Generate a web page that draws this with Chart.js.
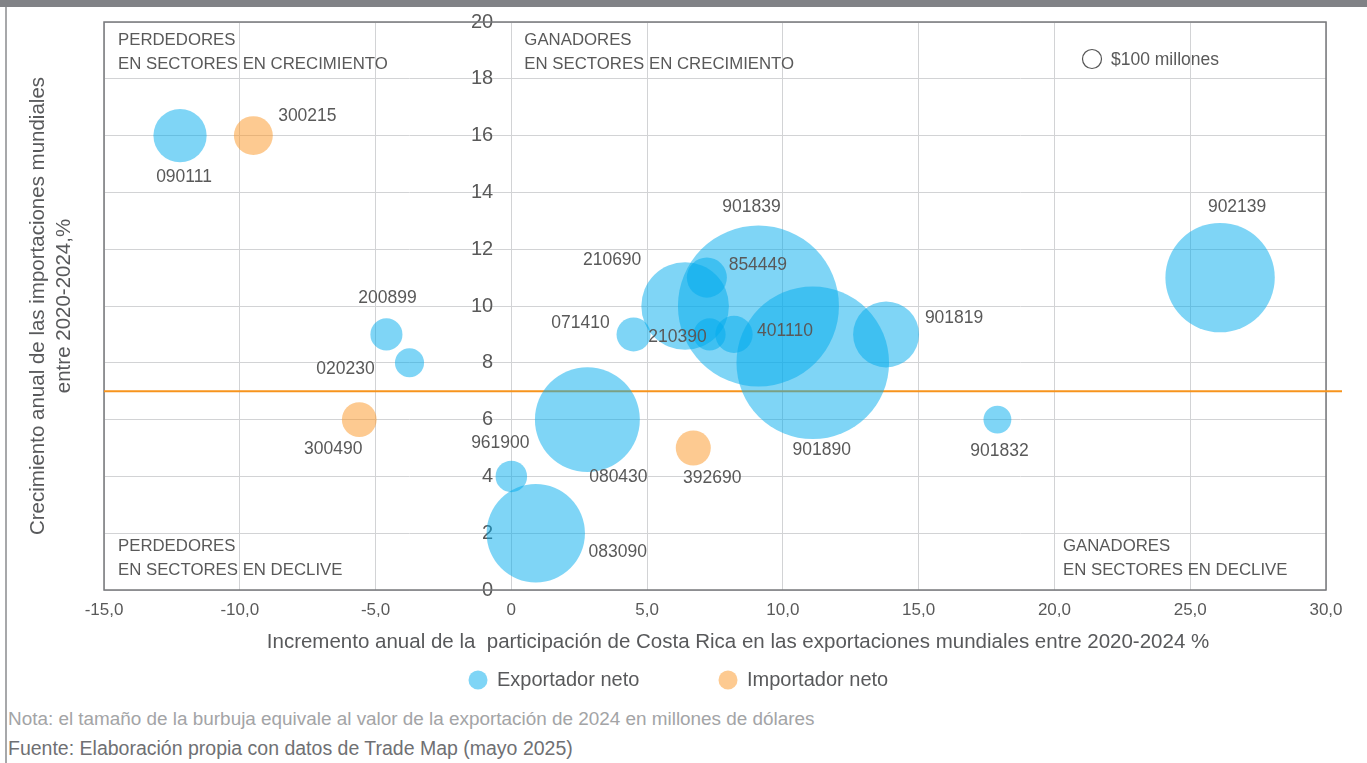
<!DOCTYPE html>
<html lang="es">
<head>
<meta charset="UTF-8">
<title>Ganadores y perdedores</title>
<script src="https://cdn.jsdelivr.net/npm/chart.js@4.4.1/dist/chart.umd.min.js"></script>
<style>
  body { margin: 0; background: #fff; font-family: "Liberation Sans", Arial, sans-serif; }
  #wrap { position: relative; width: 1367px; height: 763px; overflow: hidden; }
  #topbar { position: absolute; left: 0; top: 0; width: 1367px; height: 7px; background: #818286; }
  #leftline { position: absolute; left: 5px; top: 7px; width: 2px; height: 756px; background: #a7a8aa; }
  canvas { position: absolute; left: 0; top: 0; }
  .note { position: absolute; left: 8px; white-space: nowrap; }
</style>
</head>
<body>
<div id="wrap">
  <canvas id="bubbles" width="1367" height="700"></canvas>
  <div id="topbar"></div>
  <div id="leftline"></div>
  <div class="note" style="top:708px;font-size:18.9px;color:#a3a4a6">Nota: el tamaño de la burbuja equivale al valor de la exportación de 2024 en millones de dólares</div>
  <div class="note" style="top:737px;font-size:19.5px;color:#6f7073">Fuente: Elaboración propia con datos de Trade Map (mayo 2025)</div>
</div>

<script>
// partidas SA (6 digitos)
const codes     = ['090111','300215','200899','020230','300490','961900','083090','080430','071410','210690',
                   '210390','854449','901839','401110','901890','901819','902139','901832','392690'];
// incremento anual de participacion en exportaciones mundiales (%)
const xVals     = [-12.2, -9.5, -4.6, -3.75, -5.6, 0.0, 0.9, 2.8, 4.5, 6.4,
                    7.3, 7.2, 9.1, 8.2, 11.1, 13.8, 26.1, 17.9, 6.7];
// crecimiento anual de importaciones mundiales (%)
const yVals     = [16, 16, 9, 8, 6, 4, 2, 6, 9, 10,
                   9, 11, 10, 9, 8, 9, 11, 6, 5];
// exportacion 2024, millones de dolares
const expValues = [785, 420, 285, 235, 335, 275, 2680, 3050, 320, 2125,
                   285, 445, 7180, 385, 6450, 1205, 3315, 215, 340];
// E = exportador neto, I = importador neto
const tipo      = ['E','I','E','E','I','E','E','E','E','E',
                   'E','E','E','E','E','E','E','E','I'];
const seriesNames = ['Exportador neto', 'Importador neto'];
const promedioImport = 7;   // linea naranja
const refSize = 100;        // burbuja de referencia, $100 millones

const radiusFor = v => 9.5 * Math.sqrt(v / refSize);

// posicion de cada etiqueta respecto al centro de la burbuja
const labelPos = {
  '090111': [4, 42],   '300215': [54, -19],  '200899': [1, -36],   '020230': [-64, 6],
  '300490': [-26, 30], '961900': [-11, -33], '083090': [82, 19],   '080430': [31, 58],
  '071410': [-53, -11],'210690': [-73, -46], '210390': [-32, 3],   '854449': [51, -12],
  '901839': [-7, -99], '401110': [51, -3],   '901890': [9, 87],    '901819': [68, -16],
  '902139': [17, -70], '901832': [2, 32],    '392690': [19, 30]
};

function pointsOf(kind) {
  const out = [];
  for (let i = 0; i < codes.length; i++) {
    if (tipo[i] !== kind) continue;
    out.push({ x: xVals[i], y: yVals[i], r: radiusFor(expValues[i]), code: codes[i] });
  }
  return out;
}

const txt = '#595959';
const fam = "'Liberation Sans', Arial, sans-serif";
Chart.defaults.font.family = fam;
Chart.defaults.color = txt;

const overlay = {
  id: 'overlay',
  beforeDatasetsDraw(chart) {
    const { ctx, chartArea: a, scales: { y } } = chart;
    ctx.save();
    ctx.strokeStyle = '#77787b';
    ctx.lineWidth = 1.5;
    ctx.strokeRect(a.left, a.top, a.right - a.left, a.bottom - a.top);
    const yl = y.getPixelForValue(promedioImport);
    ctx.strokeStyle = '#f7941d';
    ctx.lineWidth = 2;
    ctx.beginPath();
    ctx.moveTo(a.left, yl);
    ctx.lineTo(a.right + 16, yl);
    ctx.stroke();
    ctx.restore();
  },
  afterDatasetsDraw(chart) {
    const { ctx, chartArea: a } = chart;
    ctx.save();
    // etiquetas de las burbujas
    ctx.fillStyle = txt;
    ctx.font = '17.5px ' + fam;
    ctx.textAlign = 'center';
    ctx.textBaseline = 'middle';
    chart.data.datasets.forEach((ds, di) => {
      chart.getDatasetMeta(di).data.forEach((el, i) => {
        const code = ds.data[i].code;
        const off = labelPos[code] || [0, 0];
        ctx.fillText(code, el.x + off[0], el.y + off[1]);
      });
    });

    // cuadrantes
    ctx.textAlign = 'left';
    ctx.font = '16.8px ' + fam;
    const x0 = chart.scales.x.getPixelForValue(0);
    const quads = [
      [a.left + 14, a.top + 18, 'PERDEDORES', 'EN SECTORES EN CRECIMIENTO'],
      [x0 + 13, a.top + 18, 'GANADORES', 'EN SECTORES EN CRECIMIENTO'],
      [a.left + 14, a.bottom - 44, 'PERDEDORES', 'EN SECTORES EN DECLIVE'],
      [1063, a.bottom - 44, 'GANADORES', 'EN SECTORES EN DECLIVE']
    ];
    quads.forEach(q => {
      ctx.fillText(q[2], q[0], q[1]);
      ctx.fillText(q[3], q[0], q[1] + 24);
    });

    // burbuja de referencia
    ctx.strokeStyle = '#555';
    ctx.lineWidth = 1.2;
    ctx.beginPath();
    ctx.arc(1092, 59, radiusFor(refSize), 0, Math.PI * 2);
    ctx.stroke();
    ctx.font = '17.5px ' + fam;
    ctx.fillText('$100 millones', 1111, 60);

    // titulos de ejes
    ctx.fillStyle = '#58595b';
    ctx.font = '20.5px ' + fam;
    ctx.textAlign = 'center';
    ctx.fillText('Incremento anual de la  participación de Costa Rica en las exportaciones mundiales entre 2020-2024 %', 738, 642);
    ctx.save();
    ctx.translate(38, (a.top + a.bottom) / 2);
    ctx.rotate(-Math.PI / 2);
    ctx.fillText('Crecimiento anual de las importaciones mundiales', 0, 0);
    ctx.fillText('entre 2020-2024,%', 0, 26);
    ctx.restore();

    // leyenda de series
    const legendX = [478, 728];
    ctx.textAlign = 'left';
    ctx.font = '20px ' + fam;
    chart.data.datasets.forEach((ds, di) => {
      ctx.fillStyle = ds.backgroundColor;
      ctx.beginPath();
      ctx.arc(legendX[di], 680, 9.5, 0, Math.PI * 2);
      ctx.fill();
      ctx.fillStyle = '#58595b';
      ctx.fillText(ds.label, legendX[di] + 19, 680);
    });
    ctx.restore();
  }
};

new Chart(document.getElementById('bubbles'), {
  type: 'bubble',
  data: {
    datasets: [
      { label: seriesNames[0], data: pointsOf('E'), backgroundColor: 'rgba(0,172,237,0.5)', borderWidth: 0 },
      { label: seriesNames[1], data: pointsOf('I'), backgroundColor: 'rgba(251,150,35,0.5)', borderWidth: 0 }
    ]
  },
  options: {
    responsive: false,
    animation: false,
    layout: { autoPadding: false, padding: { left: 104, top: 22, right: 41, bottom: 80 } },
    plugins: { legend: { display: false }, tooltip: { enabled: false } },
    scales: {
      x: {
        type: 'linear', position: 'bottom', min: -15, max: 30,
        afterFit(s) { s.height = 30; },
        border: { display: false },
        grid: { color: '#d2d3d5', lineWidth: 1, drawTicks: false },
        ticks: {
          stepSize: 5, padding: 10, color: txt, font: { size: 17 },
          callback: v => v === 0 ? '0' : v.toFixed(1).replace('.', ',')
        }
      },
      y: {
        // eje cerca de x = 0; con posicion objeto no se aplica ticks.padding,
        // asi que se corre un poco a la izquierda para separar las etiquetas
        type: 'linear', position: { x: -0.67 }, min: 0, max: 20,
        afterFit(s) { s.paddingTop = 0; s.paddingBottom = 0; },
        border: { display: false },
        grid: { color: '#d2d3d5', lineWidth: 1, drawTicks: false },
        ticks: { stepSize: 2, padding: 0, color: txt, font: { size: 20 } }
      }
    }
  },
  plugins: [overlay]
});
</script>
</body>
</html>
